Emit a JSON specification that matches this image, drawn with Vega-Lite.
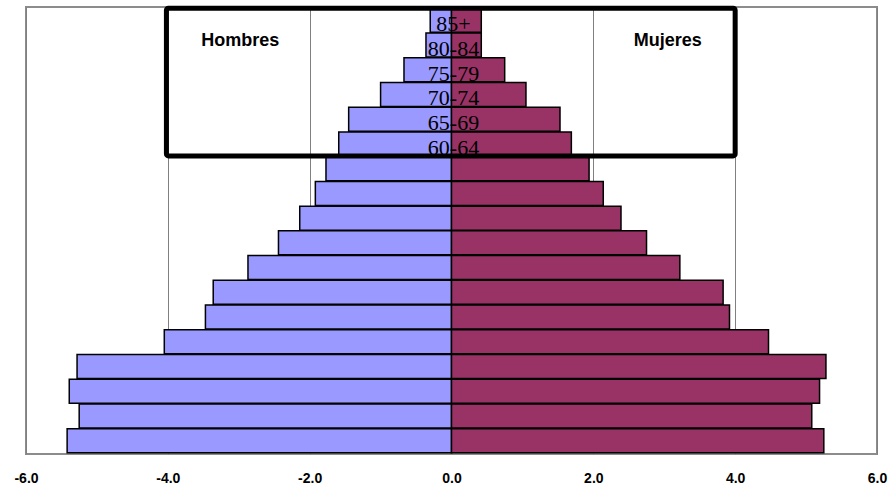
{
  "$schema": "https://vega.github.io/schema/vega-lite/v6.json",
  "width": 851,
  "height": 447,
  "autosize": {"type": "none"},
  "padding": {"left": 26, "top": 7, "right": 16, "bottom": 37},
  "background": "white",
  "config": {"view": {"stroke": "#8c8c8c", "strokeWidth": 2}, "font": "Liberation Sans"},
  "datasets": {
    "pop": [
      {"age": "85+", "sex": "Hombres", "value": -0.30}, {"age": "85+", "sex": "Mujeres", "value": 0.42},
      {"age": "80-84", "sex": "Hombres", "value": -0.36}, {"age": "80-84", "sex": "Mujeres", "value": 0.42},
      {"age": "75-79", "sex": "Hombres", "value": -0.67}, {"age": "75-79", "sex": "Mujeres", "value": 0.75},
      {"age": "70-74", "sex": "Hombres", "value": -1.00}, {"age": "70-74", "sex": "Mujeres", "value": 1.05},
      {"age": "65-69", "sex": "Hombres", "value": -1.45}, {"age": "65-69", "sex": "Mujeres", "value": 1.53},
      {"age": "60-64", "sex": "Hombres", "value": -1.59}, {"age": "60-64", "sex": "Mujeres", "value": 1.69},
      {"age": "55-59", "sex": "Hombres", "value": -1.77}, {"age": "55-59", "sex": "Mujeres", "value": 1.94},
      {"age": "50-54", "sex": "Hombres", "value": -1.92}, {"age": "50-54", "sex": "Mujeres", "value": 2.14},
      {"age": "45-49", "sex": "Hombres", "value": -2.14}, {"age": "45-49", "sex": "Mujeres", "value": 2.39},
      {"age": "40-44", "sex": "Hombres", "value": -2.44}, {"age": "40-44", "sex": "Mujeres", "value": 2.75},
      {"age": "35-39", "sex": "Hombres", "value": -2.87}, {"age": "35-39", "sex": "Mujeres", "value": 3.22},
      {"age": "30-34", "sex": "Hombres", "value": -3.36}, {"age": "30-34", "sex": "Mujeres", "value": 3.83},
      {"age": "25-29", "sex": "Hombres", "value": -3.47}, {"age": "25-29", "sex": "Mujeres", "value": 3.92},
      {"age": "20-24", "sex": "Hombres", "value": -4.05}, {"age": "20-24", "sex": "Mujeres", "value": 4.47},
      {"age": "15-19", "sex": "Hombres", "value": -5.28}, {"age": "15-19", "sex": "Mujeres", "value": 5.28},
      {"age": "10-14", "sex": "Hombres", "value": -5.39}, {"age": "10-14", "sex": "Mujeres", "value": 5.19},
      {"age": "5-9", "sex": "Hombres", "value": -5.25}, {"age": "5-9", "sex": "Mujeres", "value": 5.08},
      {"age": "0-4", "sex": "Hombres", "value": -5.42}, {"age": "0-4", "sex": "Mujeres", "value": 5.25}
    ],
    "box": [{"x1": -4.02, "x2": 4.0, "top": "85+", "bottom": "60-64"}],
    "titles": [
      {"label": "Hombres", "x": -2.98, "age": "80-84"},
      {"label": "Mujeres", "x": 3.05, "age": "80-84"}
    ]
  },
  "layer": [
    {
      "data": {"name": "pop"},
      "mark": {"type": "bar", "stroke": "black", "strokeWidth": 1.5},
      "encoding": {
        "y": {
          "field": "age", "type": "ordinal",
          "scale": {
            "domain": ["85+", "80-84", "75-79", "70-74", "65-69", "60-64", "55-59", "50-54", "45-49", "40-44", "35-39", "30-34", "25-29", "20-24", "15-19", "10-14", "5-9", "0-4"],
            "paddingInner": 0.03, "paddingOuter": 0.05
          },
          "axis": null
        },
        "x": {
          "field": "value", "type": "quantitative",
          "scale": {"domain": [-6, 6], "nice": false},
          "axis": {
            "values": [-6, -4, -2, 0, 2, 4, 6],
            "labelExpr": "datum.value < 0 ? '-' + format(-datum.value, '.1f') : format(datum.value, '.1f')",
            "ticks": false, "domain": false, "grid": true,
            "gridColor": "#808080", "gridWidth": 1,
            "labelFont": "Liberation Sans", "labelFontWeight": "bold", "labelFontSize": 14,
            "labelColor": "black", "labelPadding": 17, "labelFlush": false, "title": null
          }
        },
        "color": {
          "field": "sex", "type": "nominal",
          "scale": {"domain": ["Hombres", "Mujeres"], "range": ["#9999FF", "#993366"]},
          "legend": null
        }
      }
    },
    {
      "data": {"name": "pop"},
      "transform": [{"filter": {"and": [{"field": "sex", "equal": "Mujeres"}, {"field": "age", "oneOf": ["85+", "80-84", "75-79", "70-74", "65-69", "60-64"]}]}}],
      "mark": {"type": "text", "font": "Liberation Serif", "fontSize": 22, "baseline": "middle", "dy": 4, "dx": 2, "color": "black"},
      "encoding": {
        "y": {"field": "age", "type": "ordinal"},
        "x": {"datum": 0, "type": "quantitative"},
        "text": {"field": "age"}
      }
    },
    {
      "data": {"name": "box"},
      "mark": {"type": "rect", "filled": false, "stroke": "black", "strokeWidth": 5, "cornerRadius": 2},
      "encoding": {
        "x": {"field": "x1", "type": "quantitative"},
        "x2": {"field": "x2"},
        "y": {"field": "top", "type": "ordinal", "bandPosition": 0},
        "y2": {"field": "bottom", "bandPosition": 1}
      }
    },
    {
      "data": {"name": "titles"},
      "mark": {"type": "text", "font": "Liberation Sans", "fontWeight": "bold", "fontSize": 18, "baseline": "middle", "dy": -4, "color": "black"},
      "encoding": {
        "y": {"field": "age", "type": "ordinal"},
        "x": {"field": "x", "type": "quantitative"},
        "text": {"field": "label"}
      }
    }
  ]
}
